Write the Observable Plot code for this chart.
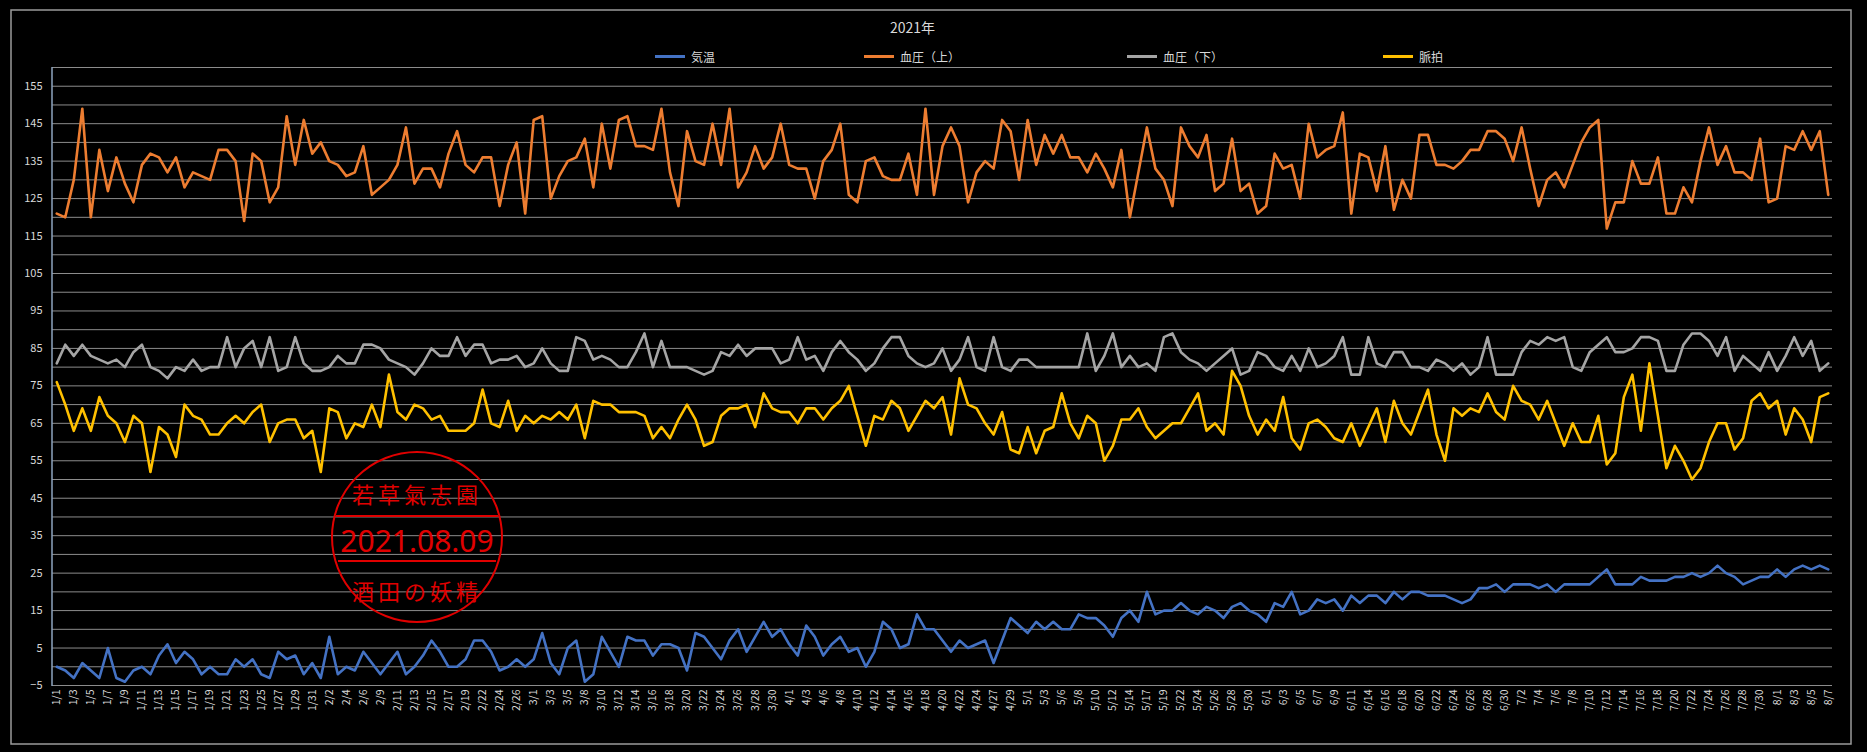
<!DOCTYPE html>
<html><head><meta charset="utf-8">
<script src="https://cdn.jsdelivr.net/npm/d3@7"></script>
<script src="https://cdn.jsdelivr.net/npm/@observablehq/plot@0.6"></script>
<style>
body{margin:0;background:#000;}
#wrap{position:relative;width:1867px;height:752px;background:#000;font-family:"Noto Sans CJK JP","Noto Sans",sans-serif;color:#d9d9d9;}
#wrap svg{position:absolute;left:0;top:0;}
.t{position:absolute;font-size:14px;color:#d9d9d9;white-space:nowrap;}
.lg{position:absolute;top:48px;font-size:12px;color:#d9d9d9;display:flex;align-items:center;}
.lg span{display:inline-block;width:30px;height:3px;margin-right:6px;}
</style></head><body>
<div id="wrap"></div>
<script>
// x tick labels (every other category)
const tickLabels = ["1/1","1/3","1/5","1/7","1/9","1/11","1/13","1/15","1/17","1/19","1/21","1/23","1/25","1/27","1/29","1/31","2/2","2/4","2/6","2/9","2/11","2/13","2/15","2/17","2/19","2/22","2/24","2/26","3/1","3/3","3/5","3/8","3/10","3/12","3/14","3/16","3/18","3/20","3/22","3/24","3/26","3/28","3/30","4/1","4/3","4/6","4/8","4/10","4/12","4/14","4/16","4/18","4/20","4/22","4/24","4/27","4/29","5/1","5/3","5/6","5/8","5/10","5/12","5/14","5/17","5/19","5/22","5/24","5/26","5/28","5/30","6/1","6/3","6/5","6/7","6/9","6/11","6/14","6/16","6/18","6/20","6/22","6/24","6/26","6/28","6/30","7/2","7/4","7/6","7/8","7/10","7/12","7/14","7/16","7/18","7/20","7/22","7/24","7/26","7/28","7/30","8/1","8/3","8/5","8/7"];
const yTicks = [-5,5,15,25,35,45,55,65,75,85,95,105,115,125,135,145,155];

const temp = [0,-1,-3,1,-1,-3,5,-3,-4,-1,0,-2,3,6,1,4,2,-2,0,-2,-2,2,0,2,-2,-3,4,2,3,-2,1,-3,8,-2,0,
-1,4,1,-2,1,4,-2,0,3,7,4,0,0,2,7,7,4,-1,0,2,0,2,9,1,-2,5,7,-4,-2,8,4,0,8,7,7,
3,6,6,5,-1,9,8,5,2,7,10,4,8,12,8,10,6,3,11,8,3,6,8,4,5,0,4,12,10,5,6,14,10,10,7,
4,7,5,6,7,1,7,13,11,9,12,10,12,10,10,14,13,13,11,8,13,15,12,20,14,15,15,17,15,14,16,15,13,16,17,
15,14,12,17,16,20,14,15,18,17,18,15,19,17,19,19,17,20,18,20,20,19,19,19,18,17,18,21,21,22,20,22,22,22,21,
22,20,22,22,22,22,24,26,22,22,22,24,23,23,23,24,24,25,24,25,27,25,24,22,23,24,24,26,24,26,27,26,27,26];
const bpHigh = [121,120,130,149,120,138,127,136,129,124,134,137,136,132,136,128,132,131,130,138,138,135,119,137,135,124,128,147,134,146,137,140,135,134,131,
132,139,126,128,130,134,144,129,133,133,128,137,143,134,132,136,136,123,134,140,121,146,147,125,131,135,136,141,128,145,133,146,147,139,139,
138,149,132,123,143,135,134,145,134,149,128,132,139,133,136,145,134,133,133,125,135,138,145,126,124,135,136,131,130,130,137,126,149,126,139,
144,139,124,132,135,133,146,143,130,146,134,142,137,142,136,136,132,137,133,128,138,120,132,144,133,130,123,144,139,136,142,127,129,141,127,
129,121,123,137,133,134,125,145,136,138,139,148,121,137,136,127,139,122,130,125,142,142,134,134,133,135,138,138,143,143,141,135,144,133,123,
130,132,128,134,140,144,146,117,124,124,135,129,129,136,121,121,128,124,135,144,134,139,132,132,130,141,124,125,139,138,143,138,143,126];
const bpLow = [81,86,83,86,83,82,81,82,80,84,86,80,79,77,80,79,82,79,80,80,88,80,85,87,80,88,79,80,88,81,79,79,80,83,81,
81,86,86,85,82,81,80,78,81,85,83,83,88,83,86,86,81,82,82,83,80,81,85,81,79,79,88,87,82,83,82,80,80,84,89,
80,87,80,80,80,79,78,79,84,83,86,83,85,85,85,81,82,88,82,83,79,84,87,84,82,79,81,85,88,88,83,81,80,81,85,
79,82,88,80,79,88,80,79,82,82,80,80,80,80,80,80,89,79,83,89,80,83,80,81,79,88,89,84,82,81,79,81,83,85,78,
79,84,83,80,79,83,79,85,80,81,83,88,78,78,88,81,80,84,84,80,80,79,82,81,79,81,78,80,88,78,78,78,84,87,86,
88,87,88,80,79,84,86,88,84,84,85,88,88,87,79,79,86,89,89,87,83,88,79,83,81,79,84,79,83,88,83,87,79,81];
const pulse = [76,70,63,69,63,72,67,65,60,67,65,52,64,62,56,70,67,66,62,62,65,67,65,68,70,60,65,66,66,61,63,52,69,68,61,
65,64,70,64,78,68,66,70,69,66,67,63,63,63,65,74,65,64,71,63,67,65,67,66,68,66,70,61,71,70,70,68,68,68,67,
61,64,61,66,70,66,59,60,67,69,69,70,64,73,69,68,68,65,69,69,66,69,71,75,67,59,67,66,71,69,63,67,71,69,72,
62,77,70,69,65,62,68,58,57,64,57,63,64,73,65,61,67,65,55,59,66,66,69,64,61,63,65,65,69,73,63,65,62,79,75,
67,62,66,63,72,61,58,65,66,64,61,60,65,59,64,69,60,71,65,62,68,74,62,55,69,67,69,68,73,68,66,75,71,70,66,
71,65,59,65,60,60,67,54,57,72,78,63,81,67,53,59,55,50,53,60,65,65,58,61,71,73,69,71,62,69,66,60,72,73];

const seriesNames = ["気温","血圧（上）","血圧（下）","脈拍"];
const seriesColors = ["#4472C4","#ED7D31","#A5A5A5","#FFC000"];
const seriesValues = [temp,bpHigh,bpLow,pulse];

const n = temp.length;
const idx = d3.range(n);
const rows = [];
seriesValues.forEach((arr,s)=>arr.forEach((v,i)=>rows.push({i,v,s:seriesNames[s]})));

const chart = Plot.plot({
  width:1867, height:752,
  marginTop:67, marginBottom:67, marginLeft:52, marginRight:35,
  style:{background:"transparent", color:"#d9d9d9", fontFamily:"'Noto Sans CJK JP','Noto Sans',sans-serif"},
  x:{type:"point", domain:idx, padding:0.5},
  y:{domain:[-5,160]},
  color:{domain:seriesNames, range:seriesColors},
  marks:[
    Plot.ruleY(d3.range(-5,161,5),{stroke:"#8c8c8c",strokeWidth:1}),
    Plot.axisY({ticks:yTicks, tickSize:0, tickPadding:10, fontSize:11, fill:"#d9d9d9", label:null}),
    Plot.axisX({ticks:idx.filter(i=>i%2===0), tickFormat:i=>tickLabels[i/2], tickRotate:-90, tickSize:0, tickPadding:4, fontSize:10.5, fill:"#d9d9d9", label:null}),
    Plot.line(rows,{x:"i", y:"v", z:"s", stroke:"s", strokeWidth:2.6})
  ]
});
const wrap = document.getElementById("wrap");
wrap.appendChild(chart);

// overlay: frame, left axis line, stamp
const ov = d3.select(wrap).append("svg").attr("width",1867).attr("height",752).style("pointer-events","none");
ov.append("rect").attr("x",11).attr("y",10).attr("width",1840).attr("height",734).attr("fill","none").attr("stroke","#9a9a9a").attr("stroke-width",1.5);
ov.append("line").attr("x1",52).attr("x2",52).attr("y1",67).attr("y2",686).attr("stroke","#8ea4bf").attr("stroke-width",1.5);
const st = ov.append("g").attr("fill","none").attr("stroke","#e00000").attr("stroke-width",2);
st.append("circle").attr("cx",417).attr("cy",537).attr("r",85);
st.append("line").attr("x1",336).attr("x2",498).attr("y1",516).attr("y2",516);
st.append("line").attr("x1",338).attr("x2",496).attr("y1",561).attr("y2",561);
const stt = ov.append("g").attr("fill","#e00000").attr("text-anchor","middle");
stt.append("text").attr("x",417).attr("y",503).attr("font-size",22).attr("font-family","'Noto Sans CJK JP'").attr("letter-spacing",4).text("若草氣志園");
stt.append("text").attr("x",417).attr("y",552).attr("font-size",30).attr("font-family","'Noto Sans',sans-serif").text("2021.08.09");
stt.append("text").attr("x",417).attr("y",600).attr("font-size",22).attr("font-family","'Noto Sans CJK JP'").attr("letter-spacing",4).text("酒田の妖精");

// title & legend
const t = document.createElement("div");
t.className="t"; t.style.left="890px"; t.style.top="17px"; t.textContent="2021年";
wrap.appendChild(t);
const lx=[655,864,1127,1383];
seriesNames.forEach((nm,k)=>{
  const d=document.createElement("div"); d.className="lg"; d.style.left=lx[k]+"px";
  d.innerHTML=`<span style="background:${seriesColors[k]}"></span>${nm}`;
  wrap.appendChild(d);
});
</script></body></html>
